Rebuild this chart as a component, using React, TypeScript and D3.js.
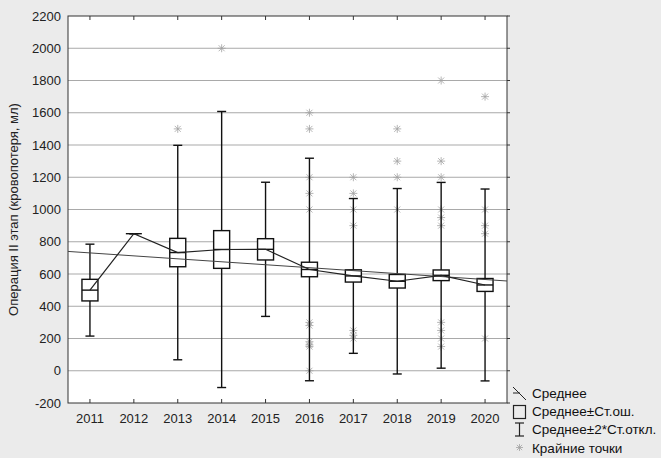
import React from "react";
import * as d3 from "d3";

const years = ["2011", "2012", "2013", "2014", "2015", "2016", "2017", "2018", "2019", "2020"];
const means = [500, 850, 733, 752, 753, 628, 588, 555, 592, 532];
const stdErr = [67, 0, 88, 117, 66, 45, 38, 42, 33, 40];
const twoSd = [285, 0, 665, 856, 416, 690, 480, 575, 576, 595];
const outliers: number[][] = [
  [],
  [],
  [1500],
  [2000],
  [],
  [1600, 1500, 1200, 1100, 1000, 300, 280, 180, 160, 150, 0],
  [1200, 1100, 1000, 900, 250, 220, 200],
  [1500, 1300, 1200, 1000],
  [1800, 1300, 1200, 1000, 950, 900, 300, 250, 200, 150],
  [1700, 1000, 900, 850, 200],
];
const yTicks = [-200, 0, 200, 400, 600, 800, 1000, 1200, 1400, 1600, 1800, 2000, 2200];
const yLabel = "Операция II этап (кровопотеря, мл)";
const legendItems = ["Среднее", "Среднее±Ст.ош.", "Среднее±2*Ст.откл.", "Крайние точки"];

const W = 661, H = 458;
const L = 68, R = 507, T = 16, B = 403;
const FONT = "'Liberation Sans', Arial, sans-serif";

function Asterisk({ x, y, r = 4 }: { x: number; y: number; r?: number }) {
  const d = r * 0.75;
  return (
    <g stroke="#a2a2a2" strokeWidth={0.8}>
      <line x1={x} y1={y - r} x2={x} y2={y + r} />
      <line x1={x - d} y1={y - d} x2={x + d} y2={y + d} />
      <line x1={x - d} y1={y + d} x2={x + d} y2={y - d} />
      <line x1={x - r} y1={y} x2={x + r} y2={y} />
    </g>
  );
}

export default function App() {
  const x = d3.scalePoint<string>().domain(years).range([L, R]).padding(0.5);
  const y = d3.scaleLinear().domain([-200, 2200]).range([B, T]);

  // linear trend of means
  const idx = years.map((_, i) => i);
  const mx = d3.mean(idx)!;
  const my = d3.mean(means)!;
  const slope =
    d3.sum(idx, (i) => (i - mx) * (means[i] - my)) / d3.sum(idx, (i) => (i - mx) * (i - mx));
  const step = x.step();
  const trendAt = (px: number) => {
    const i = (px - x(years[0])!) / step;
    return my + slope * (i - mx);
  };

  const meanLine = d3
    .line<number>()
    .x((_, i) => x(years[i])!)
    .y((d) => y(d));

  const boxW = 16;
  const capW = 9;

  return (
    <svg width={W} height={H} style={{ position: "absolute", left: 0, top: 0 }} fontFamily={FONT}>
      <rect x={0} y={0} width={W} height={H} fill="#ebebeb" />
      <rect x={L} y={T} width={R - L} height={B - T} fill="#ffffff" />
      {yTicks.map((t) => (
        <g key={t}>
          {t > -200 && t < 2200 && (
            <line x1={L} x2={R} y1={y(t)} y2={y(t)} stroke="#a9a9a9" strokeWidth={1} />
          )}
          <line x1={R} x2={R + 3} y1={y(t)} y2={y(t)} stroke="#333" strokeWidth={1} />
          <text x={61} y={y(t) + 4.5} textAnchor="end" fontSize={13} fill="#222">
            {t}
          </text>
        </g>
      ))}
      {years.map((yr) => (
        <g key={yr}>
          <line x1={x(yr)} x2={x(yr)} y1={T} y2={T + 4} stroke="#333" strokeWidth={1} />
          <line x1={x(yr)} x2={x(yr)} y1={B} y2={B - 4} stroke="#333" strokeWidth={1} />
          <text x={x(yr)} y={423} textAnchor="middle" fontSize={13} fill="#222">
            {yr}
          </text>
        </g>
      ))}
      <rect x={L} y={T} width={R - L} height={B - T} fill="none" stroke="#333" strokeWidth={1} />

      {/* outliers */}
      {outliers.map((arr, i) =>
        arr.map((v, j) => <Asterisk key={`${i}-${j}`} x={x(years[i])!} y={y(v)} />)
      )}

      {/* whiskers */}
      {years.map((yr, i) => {
        const cx = x(yr)!;
        const top = y(means[i] + twoSd[i]);
        const bot = y(means[i] - twoSd[i]);
        return (
          <g key={yr} stroke="#111" strokeWidth={1.4}>
            <line x1={cx} x2={cx} y1={top} y2={bot} />
            <line x1={cx - capW / 2} x2={cx + capW / 2} y1={top} y2={top} />
            <line x1={cx - capW / 2} x2={cx + capW / 2} y1={bot} y2={bot} />
          </g>
        );
      })}
      {/* boxes */}
      {years.map((yr, i) => {
        const cx = x(yr)!;
        const top = y(means[i] + stdErr[i]);
        const bot = y(means[i] - stdErr[i]);
        return (
          <g key={yr}>
            <rect
              x={cx - boxW / 2}
              y={top}
              width={boxW}
              height={Math.max(0, bot - top)}
              fill="#fff"
              stroke="#111"
              strokeWidth={1.4}
            />
            <line
              x1={cx - boxW / 2}
              x2={cx + boxW / 2}
              y1={y(means[i])}
              y2={y(means[i])}
              stroke="#111"
              strokeWidth={1.4}
            />
          </g>
        );
      })}
      {/* trend line */}
      <line x1={L} x2={R} y1={y(trendAt(L))} y2={y(trendAt(R))} stroke="#444" strokeWidth={1} />
      {/* mean line */}
      <path d={meanLine(means) || ""} fill="none" stroke="#222" strokeWidth={1.2} />

      {/* y label */}
      <text
        transform={`translate(18, ${(T + B) / 2}) rotate(-90)`}
        textAnchor="middle"
        fontSize={13}
        fill="#222"
      >
        {yLabel}
      </text>

      {/* legend */}
      <g>
        <g stroke="#222" strokeWidth={1}>
          <line x1={513} y1={387} x2={526} y2={400} />
          <line x1={513} y1={393} x2={520} y2={393} />
        </g>
        <rect x={513.5} y={405.5} width={12} height={13} fill="none" stroke="#222" strokeWidth={1.2} />
        <g stroke="#222" strokeWidth={1.2}>
          <line x1={519.5} x2={519.5} y1={423} y2={436} />
          <line x1={515} x2={524} y1={423} y2={423} />
          <line x1={515} x2={524} y1={436} y2={436} />
        </g>
        <Asterisk x={519.5} y={447.5} r={3.5} />
        {legendItems.map((t, i) => (
          <text key={t} x={532} y={398 + i * 18.2} fontSize={13.5} fill="#111">
            {t}
          </text>
        ))}
      </g>
    </svg>
  );
}
